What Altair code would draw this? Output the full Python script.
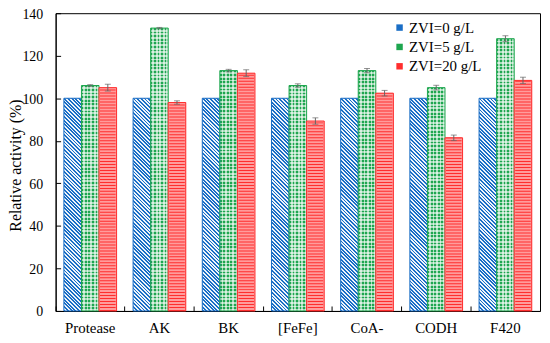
import altair as alt
import pandas as pd

categories = ["Protease", "AK", "BK", "[FeFe]", "CoA-", "CODH", "F420"]
series = ["ZVI=0 g/L", "ZVI=5 g/L", "ZVI=20 g/L"]
zvi0 = [100, 100, 100, 100, 100, 100, 100]
zvi5 = [106, 133, 113, 106, 113, 105, 128]
zvi20 = [105, 98, 111.8, 89.3, 102.4, 81.4, 108.4]
err0 = [0, 0, 0, 0, 0, 0, 0]
err5 = [0.4, 0.3, 0.6, 0.8, 1.0, 1.1, 1.4]
err20 = [1.6, 0.8, 1.6, 1.5, 1.3, 1.3, 1.5]

colors = ["#1a6ec6", "#1ea64f", "#ff2e2e"]

rows = []
for s, vals, errs in zip(series, [zvi0, zvi5, zvi20], [err0, err5, err20]):
    for c, v, e in zip(categories, vals, errs):
        rows.append({"cat": c, "series": s, "value": v, "err": e,
                     "lo": v - e, "hi": v + e, "zero": 0})
df = pd.DataFrame(rows)

FONT = "Liberation Serif"
YMAX = 140
W, H = 488, 300
XOFF_PAD = 0.47
BAR_W = (W / len(categories)) / (3 + 2 * XOFF_PAD)
PX_PER_UNIT = H / YMAX


def stripes(n, light, dark_frac, dark="rgba(255,255,255,0)", **coords):
    stops = []
    for i in range(n):
        a = i / n
        b = (i + dark_frac) / n
        c = (i + 1) / n
        stops += [alt.GradientStop(offset=a, color=dark), alt.GradientStop(offset=b, color=dark),
                  alt.GradientStop(offset=b, color=light), alt.GradientStop(offset=c, color=light)]
    return alt.LinearGradient(gradient="linear", stops=stops, **coords)


x_enc = alt.X("cat:N", sort=categories, title=None,
              scale=alt.Scale(paddingInner=0, paddingOuter=0),
              axis=alt.Axis(labelAngle=0, bandPosition=0, tickSize=alt.ExprRef(expr="-5"),
                            labelPadding=15, domainColor="black", tickColor="black",
                            labelFont=FONT, labelFontSize=15, labelColor="black"))
xo_enc = alt.XOffset("series:N", sort=series,
                     scale=alt.Scale(paddingOuter=XOFF_PAD, paddingInner=0))
y_axis = alt.Axis(values=list(range(0, 141, 20)), tickSize=alt.ExprRef(expr="-5"),
                  labelPadding=18, labelOffset=1, grid=False, domainColor="black",
                  tickColor="black", labelFont=FONT, labelFontSize=14, labelColor="black",
                  titleFont=FONT, titleFontSize=16, titleFontWeight="normal",
                  titleColor="black", titleX=-48, titleY=H / 2 + 3,
                  titleBaseline="top", titleAngle=-90, titleAlign="center")
y_enc = alt.Y("value:Q", title="Relative activity (%)",
              scale=alt.Scale(domain=[0, YMAX], nice=False), axis=y_axis)

base = alt.Chart(df)

bars = base.mark_bar(strokeWidth=0).encode(
    x=x_enc, xOffset=xo_enc, y=y_enc,
    fill=alt.Fill("series:N", sort=series, scale=alt.Scale(domain=series, range=colors),
                  legend=alt.Legend(title=None, orient="none", legendX=339, legendY=7,
                                    symbolType="square", symbolSize=42, symbolStrokeWidth=0,
                                    labelFontSize=15, labelFont=FONT, labelColor="black",
                                    rowPadding=3.5, labelOffset=2)),
)

layers = [bars]

# blue diagonal hatch
r = (100 * PX_PER_UNIT) / BAR_W
s = (1 + r) / (1 + r * r)
diag_n = int(round((BAR_W + 100 * PX_PER_UNIT) / 1.414 / 2.6))
blue_grad = stripes(diag_n, "rgba(255,255,255,0.92)", 0.5, x1=0, y1=1, x2=s, y2=1 - r * s)
layers.append(base.transform_filter(alt.datum.series == series[0]).mark_bar(
    fill=blue_grad, stroke=colors[0], strokeWidth=1).encode(x=x_enc, xOffset=xo_enc, y=y_enc))

# green checker (plaid)
vert_green = stripes(5, "rgba(255,255,255,0.6)", 0.5, x1=0, y1=0, x2=1, y2=0)
for c, v5 in zip(categories, zvi5):
    n5 = int(round(v5 * PX_PER_UNIT / 3.6))
    horiz_green = stripes(n5, "rgba(255,255,255,0.6)", 0.5, x1=0, y1=0, x2=0, y2=1)
    f5 = base.transform_filter((alt.datum.series == series[1]) & (alt.datum.cat == c))
    layers.append(f5.mark_bar(fill=vert_green, strokeWidth=0).encode(x=x_enc, xOffset=xo_enc, y=y_enc))
    layers.append(f5.mark_bar(fill=horiz_green, stroke=colors[1], strokeWidth=1).encode(
        x=x_enc, xOffset=xo_enc, y=y_enc))

# red horizontal stripes: pink bar + dashed wide rule
red = base.transform_filter(alt.datum.series == series[2])
layers.append(red.mark_bar(fill="#ff9c9c", stroke=colors[2], strokeWidth=1).encode(
    x=x_enc, xOffset=xo_enc, y=y_enc))
layers.append(red.mark_rule(stroke=colors[2], strokeWidth=BAR_W - 2, strokeDash=[1, 2],
                            strokeCap="butt").encode(
    x=x_enc, xOffset=xo_enc, y=alt.Y("zero:Q", axis=y_axis), y2="value:Q"))

errs = base.transform_filter(alt.datum.err > 0)
layers.append(errs.mark_rule(color="#666666", strokeWidth=1).encode(
    x=x_enc, xOffset=xo_enc, y=alt.Y("lo:Q", axis=y_axis), y2="hi:Q"))
layers.append(errs.mark_tick(color="#666666", thickness=1, size=6).encode(
    x=x_enc, xOffset=xo_enc, y=alt.Y("lo:Q", axis=y_axis)))
layers.append(errs.mark_tick(color="#666666", thickness=1, size=6).encode(
    x=x_enc, xOffset=xo_enc, y=alt.Y("hi:Q", axis=y_axis)))

chart = alt.layer(*layers).properties(
    width=W, height=H,
    autosize=alt.AutoSizeParams(type="none"),
    padding={"left": 48, "top": 4, "right": 2, "bottom": 25},
).configure(
    font=FONT,
    style={"guide-label": {"font": FONT}, "guide-title": {"font": FONT}},
).configure_view(stroke="black", strokeWidth=1).configure_axis(
    labelFont=FONT, titleFont=FONT
)

chart.save("out.html", embed_options={"renderer": "svg", "actions": False})
